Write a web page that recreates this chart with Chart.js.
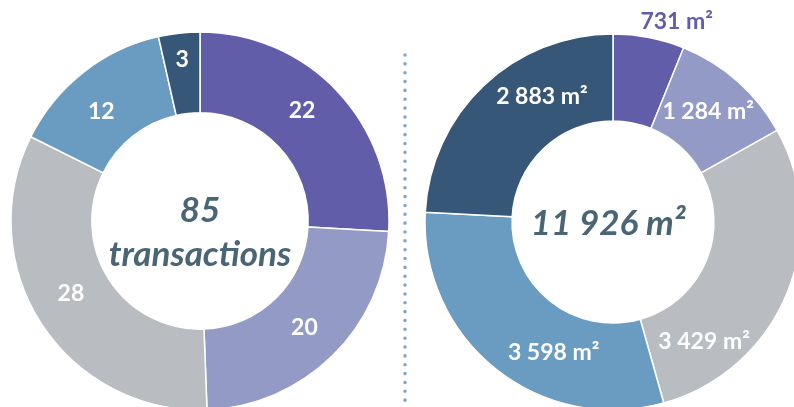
<!DOCTYPE html>
<html>
<head>
<meta charset="utf-8">
<script src="https://cdn.jsdelivr.net/npm/chart.js@4.4.1/dist/chart.umd.min.js"></script>
<style>
  html, body { margin: 0; padding: 0; background: #fff; overflow: hidden; width: 794px; height: 407px; }
  .wrap { position: absolute; }
  #left-wrap { left: 0; top: 0; width: 400px; height: 442px; }
  #right-wrap { left: 400px; top: 0; width: 426px; height: 444px; }
</style>
</head>
<body>
<div class="wrap" id="left-wrap"><canvas id="chart-count"></canvas></div>
<div class="wrap" id="right-wrap"><canvas id="chart-area"></canvas></div>
<script>
const colors = ['#625da8', '#939ac6', '#b9bcc1', '#6a9bc0', '#375779'];

const countLabels = ['22', '20', '28', '12', '3'];
const countValues = [22, 20, 28, 12, 3];
const countTotal = '85';

const areaLabels = ['731 m²', '1 284 m²', '3 429 m²', '3 598 m²', '2 883 m²'];
const areaValues = [731, 1284, 3429, 3598, 2883];
const areaTotal = '11 926 m²';

const centerColor = '#4a6573';

// draws slice labels; place = [fraction along the arc, distance from centre, colour]
const sliceLabels = {
  id: 'sliceLabels',
  afterDatasetsDraw(chart, args, opts) {
    const { ctx } = chart;
    const meta = chart.getDatasetMeta(0);
    ctx.save();
    ctx.font = opts.font;
    ctx.textAlign = 'center';
    ctx.textBaseline = 'middle';
    meta.data.forEach((arc, i) => {
      const [frac, dist, col] = opts.place[i];
      const a = arc.startAngle + (arc.endAngle - arc.startAngle) * frac;
      ctx.fillStyle = col || '#fff';
      ctx.fillText(chart.data.labels[i], arc.x + Math.cos(a) * dist, arc.y + Math.sin(a) * dist);
    });
    ctx.restore();
  },
};

const centerText = {
  id: 'centerText',
  afterDraw(chart, args, opts) {
    const { ctx } = chart;
    const arc = chart.getDatasetMeta(0).data[0];
    ctx.save();
    ctx.fillStyle = centerColor;
    ctx.font = 'italic bold 35px Lato, sans-serif';
    ctx.textAlign = 'center';
    ctx.textBaseline = 'alphabetic';
    opts.lines.forEach((line, i) => {
      ctx.fillText(line, arc.x + opts.dx, arc.y + opts.baselines[i]);
    });
    ctx.restore();
  },
};

const separator = {
  id: 'separator',
  beforeDraw(chart) {
    const { ctx } = chart;
    ctx.save();
    ctx.strokeStyle = '#7fa9cc';
    ctx.lineWidth = 3.6;
    ctx.lineCap = 'round';
    ctx.setLineDash([0, 8.85]);
    ctx.beginPath();
    ctx.moveTo(5, 55);
    ctx.lineTo(5, 410);
    ctx.stroke();
    ctx.restore();
  },
};

function donut(canvasId, labels, values, outer, opts, extra) {
  return new Chart(document.getElementById(canvasId), {
    type: 'doughnut',
    data: {
      labels,
      datasets: [{
        data: values,
        backgroundColor: colors,
        borderColor: '#fff',
        borderWidth: 1.5,
        radius: outer,
        cutout: 114,
      }],
    },
    options: {
      responsive: true,
      maintainAspectRatio: false,
      animation: false,
      events: [],
      plugins: {
        legend: { display: false },
        tooltip: { enabled: false },
        sliceLabels: opts.labels,
        centerText: opts.center,
      },
    },
    plugins: [sliceLabels, centerText].concat(extra || []),
  });
}

donut('chart-count', countLabels, countValues, 189, {
  labels: {
    font: 'bold 23px Lato, sans-serif',
    place: [[0.46, 150], [0.5, 149], [0.53, 148], [0.42, 147], [0.5, 162]],
  },
  center: { lines: [countTotal, 'transactions'], baselines: [1, 45], dx: 0 },
});

donut('chart-area', areaLabels, areaValues, 188, {
  labels: {
    font: 'bold 23px Lato, sans-serif',
    place: [[0.8, 210, '#625da8'], [0.48, 146], [0.79, 150], [0.37, 143], [0.66, 144]],
  },
  center: { lines: [areaTotal], baselines: [13], dx: -5 },
}, [separator]);
</script>
</body>
</html>
